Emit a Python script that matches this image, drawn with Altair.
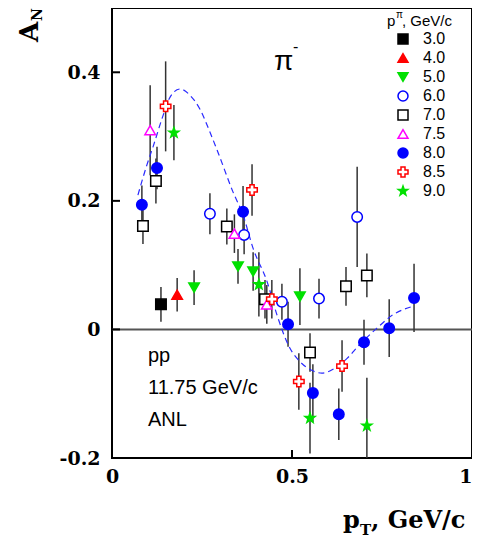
import altair as alt
import pandas as pd

# ---------------- data ----------------
STAR = ("M0,-1L0.235,-0.324L0.951,-0.309L0.380,0.124L0.588,0.809L0,0.4"
        "L-0.588,0.809L-0.380,0.124L-0.951,-0.309L-0.235,-0.324Z")

series_names = ["3.0", "4.0", "5.0", "6.0", "7.0", "7.5", "8.0", "8.5", "9.0"]
series_shapes = ["square", "triangle-up", "triangle-down", "circle", "square",
                 "triangle-up", "circle", "cross", STAR]
series_stroke = ["#000000", "#ff0000", "#00e000", "#0000ff", "#000000",
                 "#ff00ff", "#0000ff", "#ff0000", "#00e000"]
series_fill = ["#000000", "#ff0000", "#00e000", "#ffffff", "#ffffff",
               "#ffffff", "#0000ff", "#ffffff", "#00e000"]

p30_x = [0.136]
p30_y = [0.039]
p30_e = [0.027]

p40_x = [0.181]
p40_y = [0.054]
p40_e = [0.026]

p50_x = [0.228, 0.350, 0.392, 0.522]
p50_y = [0.065, 0.098, 0.090, 0.051]
p50_e = [0.027, 0.027, 0.030, 0.044]

p60_x = [0.272, 0.367, 0.472, 0.575, 0.681]
p60_y = [0.180, 0.147, 0.043, 0.048, 0.175]
p60_e = [0.032, 0.030, 0.028, 0.031, 0.078]

p70_x = [0.086, 0.122, 0.319, 0.425, 0.550, 0.650, 0.708]
p70_y = [0.161, 0.231, 0.160, 0.047, -0.036, 0.067, 0.084]
p70_e = [0.028, 0.035, 0.028, 0.030, 0.030, 0.030, 0.034]

p75_x = [0.106, 0.340, 0.430]
p75_y = [0.310, 0.149, 0.039]
p75_e = [0.070, 0.030, 0.030]

p80_x = [0.083, 0.125, 0.364, 0.489, 0.558, 0.630, 0.700, 0.770, 0.839]
p80_y = [0.194, 0.251, 0.183, 0.008, -0.099, -0.132, -0.020, 0.002, 0.049]
p80_e = [0.030, 0.033, 0.040, 0.035, 0.045, 0.040, 0.035, 0.045, 0.053]

p85_x = [0.149, 0.389, 0.444, 0.519, 0.639]
p85_y = [0.347, 0.217, 0.047, -0.081, -0.057]
p85_e = [0.070, 0.040, 0.030, 0.044, 0.040]

p90_x = [0.172, 0.408, 0.550, 0.708]
p90_y = [0.306, 0.070, -0.138, -0.150]
p90_e = [0.043, 0.050, 0.055, 0.075]

curve_x = [0.072, 0.097, 0.114, 0.142, 0.161, 0.189, 0.217, 0.244, 0.272, 0.294,
           0.336, 0.364, 0.392, 0.431, 0.458, 0.494, 0.522, 0.556, 0.583, 0.614,
           0.653, 0.689, 0.736, 0.781, 0.836]
curve_y = [0.209, 0.256, 0.284, 0.333, 0.361, 0.374, 0.364, 0.343, 0.307, 0.276,
           0.214, 0.178, 0.126, 0.074, 0.023, -0.029, -0.050, -0.064, -0.068, -0.062,
           -0.045, -0.023, 0.002, 0.023, 0.036]

y_ticks = [-0.2, 0, 0.2, 0.4]
y_tick_labels = ["-0.2", "0", "0.2", "0.4"]
x_ticks = [0, 0.5, 1]
x_tick_labels = ["0", "0.5", "1"]

# ---------------- tables ----------------
all_series = [
    ("3.0", p30_x, p30_y, p30_e), ("4.0", p40_x, p40_y, p40_e),
    ("5.0", p50_x, p50_y, p50_e), ("6.0", p60_x, p60_y, p60_e),
    ("7.0", p70_x, p70_y, p70_e), ("7.5", p75_x, p75_y, p75_e),
    ("8.0", p80_x, p80_y, p80_e), ("8.5", p85_x, p85_y, p85_e),
    ("9.0", p90_x, p90_y, p90_e),
]
rows = []
for name, xs, ys, es in all_series:
    for xv, yv, ev in zip(xs, ys, es):
        rows.append({"series": name, "x": xv, "y": yv, "lo": yv - ev, "hi": yv + ev})
df = pd.DataFrame(rows)
curve_df = pd.DataFrame({"x": curve_x, "y": curve_y})

W, H = 360, 450
SERIF = "DejaVu Serif"

def label_expr(vals, labs):
    parts = " : ".join(f"datum.value == {v} ? '{l}'" for v, l in zip(vals, labs))
    return parts + " : ''"

x_scale = alt.Scale(domain=[0, 1], nice=False, zero=False)
y_scale = alt.Scale(domain=[-0.2, 0.5], nice=False, zero=False)
x_axis = alt.Axis(values=x_ticks, labelExpr=label_expr(x_ticks, x_tick_labels),
                  title=None, labelPadding=9, labelFlush=False, orient="bottom",
                  labelAlign={"condition": {"test": "datum.value == 1", "value": "right"},
                              "value": "center"})
y_axis = alt.Axis(values=y_ticks, labelExpr=label_expr(y_ticks, y_tick_labels),
                  title=None, labelPadding=12, labelBaseline="middle", orient="left")

zero = alt.Chart(pd.DataFrame({"y": [0]})).mark_rule(
    color="#555555", strokeWidth=2).encode(
    y=alt.Y("y:Q", scale=y_scale, axis=y_axis))

errs = alt.Chart(df).mark_rule(color="#333333", strokeWidth=1.5, clip=True).encode(
    x=alt.X("x:Q", scale=x_scale, axis=x_axis),
    y=alt.Y("lo:Q", scale=y_scale, axis=y_axis),
    y2="hi:Q",
)

curve = alt.Chart(curve_df).mark_line(
    color="#2a2aff", strokeWidth=1.2, strokeDash=[6, 4], interpolate="monotone").encode(
    x=alt.X("x:Q", scale=x_scale, axis=x_axis),
    y=alt.Y("y:Q", scale=y_scale, axis=y_axis),
)

leg = alt.Legend(orient="none", legendX=283, legendY=23, title=None,
                 labelFont="Liberation Sans", labelFontSize=16, labelColor="black",
                 rowPadding=3, labelOffset=12, symbolSize=100,
                 symbolStrokeWidth=1.5, padding=0)

points = alt.Chart(df).mark_point(filled=False, opacity=1, size=110,
                                  strokeWidth=1.5).encode(
    x=alt.X("x:Q", scale=x_scale, axis=x_axis),
    y=alt.Y("y:Q", scale=y_scale, axis=y_axis),
    color=alt.Color("series:N", scale=alt.Scale(domain=series_names, range=series_stroke), legend=leg),
    fill=alt.Fill("series:N", scale=alt.Scale(domain=series_names, range=series_fill), legend=leg),
    shape=alt.Shape("series:N", scale=alt.Scale(domain=series_names, range=series_shapes), legend=leg),
)

ytick_df = pd.DataFrame({"v": [0, 0.2, 0.4]})
yticks_in = alt.Chart(ytick_df).mark_rule(color="black", strokeWidth=2).encode(
    y=alt.Y("v:Q", scale=y_scale, axis=y_axis), x=alt.value(0), x2=alt.value(8))
xtick_df = pd.DataFrame({"v": [0.5]})
xticks_in = alt.Chart(xtick_df).mark_rule(color="black", strokeWidth=2).encode(
    x=alt.X("v:Q", scale=x_scale, axis=x_axis), y=alt.value(H), y2=alt.value(H - 8))

one = pd.DataFrame({"a": [0]})

def txt(s, px, py, size, font="Liberation Sans", weight="normal", angle=0, align="left"):
    return alt.Chart(one).mark_text(
        text=s, font=font, fontSize=size, fontWeight=weight, angle=angle,
        align=align, baseline="alphabetic", color="black").encode(
        x=alt.value(px), y=alt.value(py))

texts = [
    txt("pp", 36, 354, 20),
    txt("11.75 GeV/c", 36, 386, 20),
    txt("ANL", 36, 418, 20),
    txt("π", 162, 62, 28),
    txt("-", 181, 44, 16),
    txt("p", 275, 18, 15),
    txt("π", 284, 10, 10),
    txt(", GeV/c", 290, 18, 15),
    txt("p", 231, 520, 24, font=SERIF, weight="bold"),
    txt("T", 248, 527, 15, font=SERIF, weight="bold"),
    txt(", GeV/c", 259, 520, 24, font=SERIF, weight="bold"),
    txt("A", -74, 34, 26, font=SERIF, weight="bold", angle=270),
    txt("N", -70, 13, 14, font=SERIF, weight="bold", angle=270),
]

chart = alt.layer(zero, errs, curve, points, yticks_in, xticks_in, *texts).properties(
    width=W, height=H,
    autosize=alt.AutoSizeParams(type="none"),
    padding={"left": 104, "top": 0, "right": 0, "bottom": 80},
).configure_view(stroke="black", strokeWidth=2).configure_axis(
    grid=False, domain=False, ticks=False,
    labelFont=SERIF, labelFontWeight="bold", labelFontSize=19,
    labelColor="black",
)

chart.save("out.html", embed_options={"renderer": "svg", "actions": False})
